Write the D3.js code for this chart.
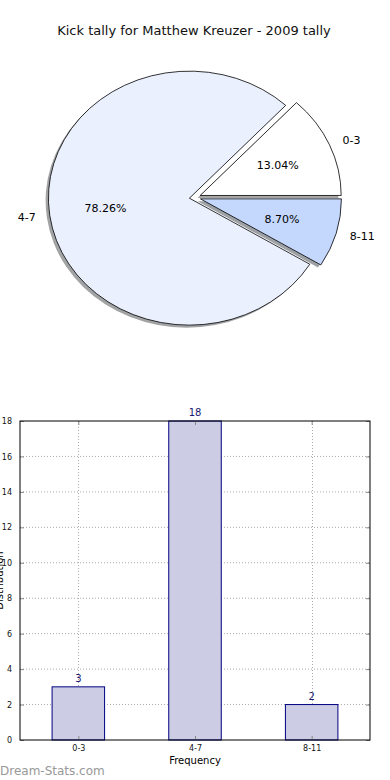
<!DOCTYPE html>
<html>
<head>
<meta charset="utf-8">
<script src="https://cdn.jsdelivr.net/npm/d3@7/dist/d3.min.js"></script>
<style>
	body { margin: 0; background: #fff; }
	text { font-family: "DejaVu Sans", sans-serif; }
</style>
</head>
<body>
<div id="container"></div>
<script>
var title = "Kick tally for Matthew Kreuzer - 2009 tally";
var categories = ["0-3", "4-7", "8-11"];
var counts = [3, 18, 2];
var sliceColors = ["#ffffff", "#eaf0fe", "#c4d8fe"];
var yTicks = [0, 2, 4, 6, 8, 10, 12, 14, 16, 18];

var width = 390, height = 780;

var svg = d3.select("#container").append("svg")
	.attr("width", width)
	.attr("height", height);

svg.append("text")
	.attr("x", 194)
	.attr("y", 35)
	.attr("text-anchor", "middle")
	.style("font-size", "13px")
	.attr("fill", "#111")
	.text(title);

// ---- pie (matplotlib style: starts at 3 o'clock, goes counter-clockwise, squashed to an ellipse)
var cx = 195, cy = 197.5, rx = 141, ry = 127;
var explode = 0.04;
var total = d3.sum(counts);

var pie = d3.pie().sort(null).value(d => d)(counts);

var arc = d3.arc().innerRadius(0).outerRadius(1)
	.startAngle(d => Math.PI / 2 - d.endAngle)
	.endAngle(d => Math.PI / 2 - d.startAngle);

var pieG = svg.append("g");

function offsetOf(d) {
	var mid = (d.startAngle + d.endAngle) / 2;
	return [cx + explode * rx * Math.cos(mid), cy - explode * ry * Math.sin(mid)];
}

// shadows first
pieG.selectAll("path.shadow")
	.data(pie)
	.enter().append("path")
	.attr("class", "shadow")
	.attr("transform", d => {
		var o = offsetOf(d);
		return "translate(" + (o[0] - 2.8) + "," + (o[1] + 2.5) + ") scale(" + rx + "," + ry + ")";
	})
	.attr("d", arc)
	.attr("fill", (d, i) => {
		var c = d3.rgb(sliceColors[i]);
		return d3.rgb(c.r * 0.3, c.g * 0.3, c.b * 0.3);
	})
	.attr("fill-opacity", 0.5);

pieG.selectAll("path.wedge")
	.data(pie)
	.enter().append("path")
	.attr("class", "wedge")
	.attr("transform", d => {
		var o = offsetOf(d);
		return "translate(" + o[0] + "," + o[1] + ") scale(" + rx + "," + ry + ")";
	})
	.attr("d", arc)
	.attr("fill", (d, i) => sliceColors[i])
	.attr("stroke", "#000")
	.attr("stroke-width", 0.8)
	.attr("vector-effect", "non-scaling-stroke");

pie.forEach((d, i) => {
	var mid = (d.startAngle + d.endAngle) / 2;
	var o = offsetOf(d);
	var c = Math.cos(mid), s = Math.sin(mid);
	pieG.append("text")
		.attr("x", o[0] + 1.1 * rx * c)
		.attr("y", o[1] - 1.1 * ry * s)
		.attr("dy", "0.35em")
		.attr("text-anchor", c > 0 ? "start" : "end")
		.style("font-size", "11px")
		.text(categories[i]);
	pieG.append("text")
		.attr("x", o[0] + 0.6 * rx * c)
		.attr("y", o[1] - 0.6 * ry * s)
		.attr("dy", "0.35em")
		.attr("text-anchor", "middle")
		.style("font-size", "11px")
		.text(d3.format(".2f")(d.value / total * 100) + "%");
});

// ---- bar chart
var margin = {top: 421, left: 20, right: 20, bottom: 40};
var plotW = width - margin.left - margin.right,
	plotH = height - margin.top - margin.bottom;

var x = d3.scaleLinear().domain([-0.5, categories.length - 0.5]).range([0, plotW]);
var y = d3.scaleLinear().domain([0, 18]).range([plotH, 0]);
var barW = x(0.45) - x(0);

var g = svg.append("g").attr("transform", "translate(" + margin.left + "," + margin.top + ")");

// grid
g.selectAll("line.hgrid")
	.data(yTicks.slice(1, -1))
	.enter().append("line")
	.attr("x1", 0).attr("x2", plotW)
	.attr("y1", d => y(d)).attr("y2", d => y(d))
	.attr("stroke", "#aaa").attr("stroke-width", 1)
	.attr("stroke-dasharray", "1,2");

g.selectAll("line.vgrid")
	.data(categories)
	.enter().append("line")
	.attr("x1", (d, i) => Math.round(x(i)) + 0.5).attr("x2", (d, i) => Math.round(x(i)) + 0.5)
	.attr("y1", 0).attr("y2", plotH)
	.attr("stroke", "#aaa").attr("stroke-width", 1)
	.attr("stroke-dasharray", "1,2");

g.selectAll("rect.bar")
	.data(counts)
	.enter().append("rect")
	.attr("x", (d, i) => x(i) - barW / 2)
	.attr("y", d => y(d))
	.attr("width", barW)
	.attr("height", d => plotH - y(d))
	.attr("fill", "#cccce5")
	.attr("stroke", "#000080")
	.attr("stroke-width", 1);

g.selectAll("text.val")
	.data(counts)
	.enter().append("text")
	.attr("x", (d, i) => x(i))
	.attr("y", d => y(d) - 5)
	.attr("text-anchor", "middle")
	.attr("fill", "#191970")
	.style("font-size", "10px")
	.text(d => d);

// axes
var yAxis = d3.axisLeft(y).tickValues(yTicks).tickSizeInner(-4).tickSizeOuter(0).tickPadding(8);
var yAxisR = d3.axisRight(y).tickValues(yTicks).tickSizeInner(-4).tickSizeOuter(0).tickFormat("");
var xAxis = d3.axisBottom(x).tickValues(d3.range(categories.length))
	.tickFormat(i => categories[i]).tickSizeInner(-4).tickSizeOuter(0).tickPadding(5);
var xAxisT = d3.axisTop(x).tickValues(d3.range(categories.length))
	.tickSizeInner(-4).tickSizeOuter(0).tickFormat("");

function styleAxis(sel) {
	sel.select(".domain").remove();
	sel.selectAll(".tick line").attr("stroke", "#888");
	sel.selectAll("text").style("font-size", "8px").attr("fill", "#111")
		.style("font-family", "\"DejaVu Sans\", sans-serif");
}

g.append("g").call(yAxis).call(styleAxis);
g.append("g").attr("transform", "translate(" + plotW + ",0)").call(yAxisR).call(styleAxis);
g.append("g").attr("transform", "translate(0," + plotH + ")").call(xAxis).call(styleAxis);
g.append("g").call(xAxisT).call(styleAxis);

g.append("rect")
	.attr("x", 0).attr("y", 0)
	.attr("width", plotW).attr("height", plotH)
	.attr("fill", "none")
	.attr("stroke", "#000").attr("stroke-width", 1);

g.append("text")
	.attr("x", plotW / 2)
	.attr("y", plotH + 24)
	.attr("text-anchor", "middle")
	.style("font-size", "10px")
	.text("Frequency");

// y label sits mostly off the left edge, as in the original
svg.append("text")
	.attr("transform", "translate(3," + (margin.top + plotH / 2) + ") rotate(-90)")
	.attr("text-anchor", "middle")
	.style("font-size", "10px")
	.text("Distribution");

svg.append("text")
	.attr("x", 0)
	.attr("y", 775)
	.attr("fill", "#999")
	.style("font-size", "12px")
	.text("Dream-Stats.com");
</script>
</body>
</html>
